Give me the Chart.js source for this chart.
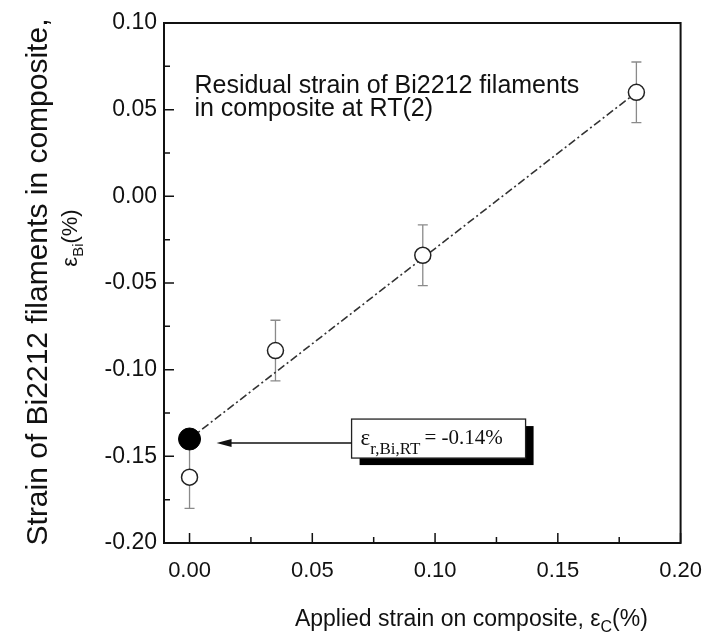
<!DOCTYPE html>
<html>
<head>
<meta charset="utf-8">
<script src="https://cdn.jsdelivr.net/npm/chart.js@4.4.0/dist/chart.umd.min.js"></script>
<style>
  html, body { margin: 0; padding: 0; background: #fff; }
  #wrap { width: 717px; height: 634px; position: relative; }
</style>
</head>
<body>
<div id="wrap"><canvas id="c" width="717" height="634"></canvas></div>
<script>
// ---- data ----
const appliedStrain = [0.000, 0.035, 0.095, 0.182];       // εC (%)
const filamentStrain = [-0.162, -0.089, -0.034, 0.060];   // εBi (%)
const strainError = [0.018, 0.0175, 0.0175, 0.0175];      // ± error
const residualX = [0.000];
const residualY = [-0.140];
const fitX = [0.000, 0.182];
const fitY = [-0.140, 0.060];
const xTickValues = [0.00, 0.05, 0.10, 0.15, 0.20];
const xMinorValues = [0.025, 0.075, 0.125, 0.175];
const yTickValues = [0.10, 0.05, 0.00, -0.05, -0.10, -0.15, -0.20];
const yMinorValues = [0.075, 0.025, -0.025, -0.075, -0.125, -0.175];
const noteLines = ['Residual strain of Bi2212 filaments', 'in composite at RT(2)'];
const residualLabel = { main: 'ε', sub: 'r,Bi,RT', rest: '= -0.14%' };

const SANS = '"Liberation Sans", Arial, sans-serif';
const SERIF = '"Liberation Serif", "Times New Roman", serif';

const decor = {
  id: 'decor',
  beforeDatasetsDraw(chart) {
    const ctx = chart.ctx, xs = chart.scales.x, ys = chart.scales.y;
    ctx.save();
    ctx.strokeStyle = '#8a8a8a';
    ctx.lineWidth = 1.3;
    for (let i = 0; i < appliedStrain.length; i++) {
      const px = xs.getPixelForValue(appliedStrain[i]);
      const pt = ys.getPixelForValue(filamentStrain[i] + strainError[i]);
      const pb = ys.getPixelForValue(filamentStrain[i] - strainError[i]);
      ctx.beginPath();
      ctx.moveTo(px, pt); ctx.lineTo(px, pb);
      ctx.moveTo(px - 5, pt); ctx.lineTo(px + 5, pt);
      ctx.moveTo(px - 5, pb); ctx.lineTo(px + 5, pb);
      ctx.stroke();
    }
    ctx.restore();
  },
  afterDatasetsDraw(chart) {
    const ctx = chart.ctx, xs = chart.scales.x, ys = chart.scales.y;
    const a = chart.chartArea;
    ctx.save();
    // frame
    ctx.strokeStyle = '#111';
    ctx.lineWidth = 2;
    ctx.strokeRect(a.left, a.top, a.right - a.left, a.bottom - a.top);
    // inward ticks
    ctx.lineWidth = 1.5;
    ctx.beginPath();
    xTickValues.forEach(v => { const p = xs.getPixelForValue(v); ctx.moveTo(p, a.bottom); ctx.lineTo(p, a.bottom - 10); });
    xMinorValues.forEach(v => { const p = xs.getPixelForValue(v); ctx.moveTo(p, a.bottom); ctx.lineTo(p, a.bottom - 6); });
    yTickValues.forEach(v => { const p = ys.getPixelForValue(v); ctx.moveTo(a.left, p); ctx.lineTo(a.left + 10, p); });
    yMinorValues.forEach(v => { const p = ys.getPixelForValue(v); ctx.moveTo(a.left, p); ctx.lineTo(a.left + 6, p); });
    ctx.stroke();

    // note text
    ctx.fillStyle = '#111';
    ctx.font = '25px ' + SANS;
    ctx.textBaseline = 'alphabetic';
    ctx.textAlign = 'left';
    const nx = xs.getPixelForValue(0.002);
    ctx.fillText(noteLines[0], nx, ys.getPixelForValue(0.0597));
    ctx.fillText(noteLines[1], nx, ys.getPixelForValue(0.0465));

    // annotation box with shadow
    const bx = xs.getPixelForValue(0.066), by = ys.getPixelForValue(-0.1285);
    const bw = 174, bh = 39;
    ctx.fillStyle = '#000';
    ctx.fillRect(bx + 8, by + 7, bw, bh);
    ctx.fillStyle = '#fff';
    ctx.fillRect(bx, by, bw, bh);
    ctx.strokeStyle = '#222';
    ctx.lineWidth = 1.3;
    ctx.strokeRect(bx, by, bw, bh);
    ctx.fillStyle = '#111';
    ctx.font = '23px ' + SERIF;
    let tx = bx + 9;
    const base = by + 26;
    ctx.fillText(residualLabel.main, tx, base);
    tx += ctx.measureText(residualLabel.main).width;
    ctx.font = '17px ' + SERIF;
    ctx.fillText(residualLabel.sub, tx, base + 9);
    tx += ctx.measureText(residualLabel.sub).width + 4;
    ctx.font = '21px ' + SERIF;
    ctx.fillText(residualLabel.rest, tx, base - 1);

    // arrow to the residual point
    const ay = ys.getPixelForValue(residualY[0]) + 4;
    const tipX = xs.getPixelForValue(residualX[0]) + 27;
    ctx.strokeStyle = '#111';
    ctx.lineWidth = 1.5;
    ctx.beginPath(); ctx.moveTo(bx, ay); ctx.lineTo(tipX + 12, ay); ctx.stroke();
    ctx.fillStyle = '#111';
    ctx.beginPath(); ctx.moveTo(tipX, ay); ctx.lineTo(tipX + 15, ay - 4); ctx.lineTo(tipX + 15, ay + 4); ctx.closePath(); ctx.fill();

    // x axis title
    ctx.textAlign = 'left';
    const t1 = 'Applied strain on composite, ε', t2 = 'C', t3 = '(%)';
    ctx.font = '23px ' + SANS; const w1 = ctx.measureText(t1).width;
    ctx.font = '16px ' + SANS; const w2 = ctx.measureText(t2).width;
    ctx.font = '23px ' + SANS; const w3 = ctx.measureText(t3).width;
    const cx = a.left + 0.595 * (a.right - a.left);
    const x0 = cx - (w1 + w2 + w3) / 2;
    const xb = 626;
    ctx.fillText(t1, x0, xb);
    ctx.font = '16px ' + SANS; ctx.fillText(t2, x0 + w1, xb + 6);
    ctx.font = '23px ' + SANS; ctx.fillText(t3, x0 + w1 + w2, xb);

    // y axis title (rotated)
    ctx.save();
    ctx.rotate(-Math.PI / 2);
    ctx.textAlign = 'center';
    ctx.font = '30px ' + SANS;
    ctx.fillText('Strain of Bi2212 filaments in composite,', -282, 47);
    const s1 = 'ε', s2 = 'Bi', s3 = '(%)';
    ctx.textAlign = 'left';
    ctx.font = '22px ' + SANS; const q1 = ctx.measureText(s1).width;
    ctx.font = '15px ' + SANS; const q2 = ctx.measureText(s2).width;
    ctx.font = '22px ' + SANS; const q3 = ctx.measureText(s3).width;
    const y0 = -238 - (q1 + q2 + q3) / 2;
    ctx.fillText(s1, y0, 77);
    ctx.font = '15px ' + SANS; ctx.fillText(s2, y0 + q1, 83);
    ctx.font = '22px ' + SANS; ctx.fillText(s3, y0 + q1 + q2, 77);
    ctx.restore();

    ctx.restore();
  }
};

new Chart(document.getElementById('c'), {
  type: 'scatter',
  data: {
    datasets: [
      {
        label: 'fit',
        type: 'line',
        data: fitX.map((x, i) => ({ x, y: fitY[i] })),
        borderColor: '#333',
        borderWidth: 1.6,
        borderDash: [8, 3, 2, 3],
        pointRadius: 0,
        fill: false,
        order: 3
      },
      {
        label: 'measured',
        data: appliedStrain.map((x, i) => ({ x, y: filamentStrain[i] })),
        pointRadius: 8,
        pointBackgroundColor: '#fff',
        pointBorderColor: '#222',
        pointBorderWidth: 1.5,
        order: 2
      },
      {
        label: 'residual',
        data: residualX.map((x, i) => ({ x, y: residualY[i] })),
        pointRadius: 11,
        pointBackgroundColor: '#000',
        pointBorderColor: '#000',
        pointBorderWidth: 1,
        order: 1
      }
    ]
  },
  options: {
    responsive: false,
    animation: false,
    layout: { padding: { top: 23, right: 27, left: 0, bottom: 0 } },
    plugins: { legend: { display: false }, tooltip: { enabled: false } },
    scales: {
      x: {
        type: 'linear',
        min: -0.0104,
        max: 0.20,
        afterBuildTicks: s => { s.ticks = xTickValues.map(v => ({ value: v })); },
        afterFit: s => { s.height = 634 - 543; },
        grid: { display: false, drawTicks: false },
        border: { display: false },
        ticks: {
          padding: 15,
          color: '#111',
          font: { family: SANS, size: 22 },
          maxRotation: 0,
          callback: v => Number(v).toFixed(2)
        }
      },
      y: {
        type: 'linear',
        min: -0.20,
        max: 0.10,
        afterBuildTicks: s => { s.ticks = yTickValues.map(v => ({ value: v })); },
        afterFit: s => { s.width = 164; },
        grid: { display: false, drawTicks: false },
        border: { display: false },
        ticks: {
          padding: 7,
          color: '#111',
          font: { family: SANS, size: 23 },
          callback: v => Number(v).toFixed(2)
        }
      }
    }
  },
  plugins: [decor]
});
</script>
</body>
</html>
